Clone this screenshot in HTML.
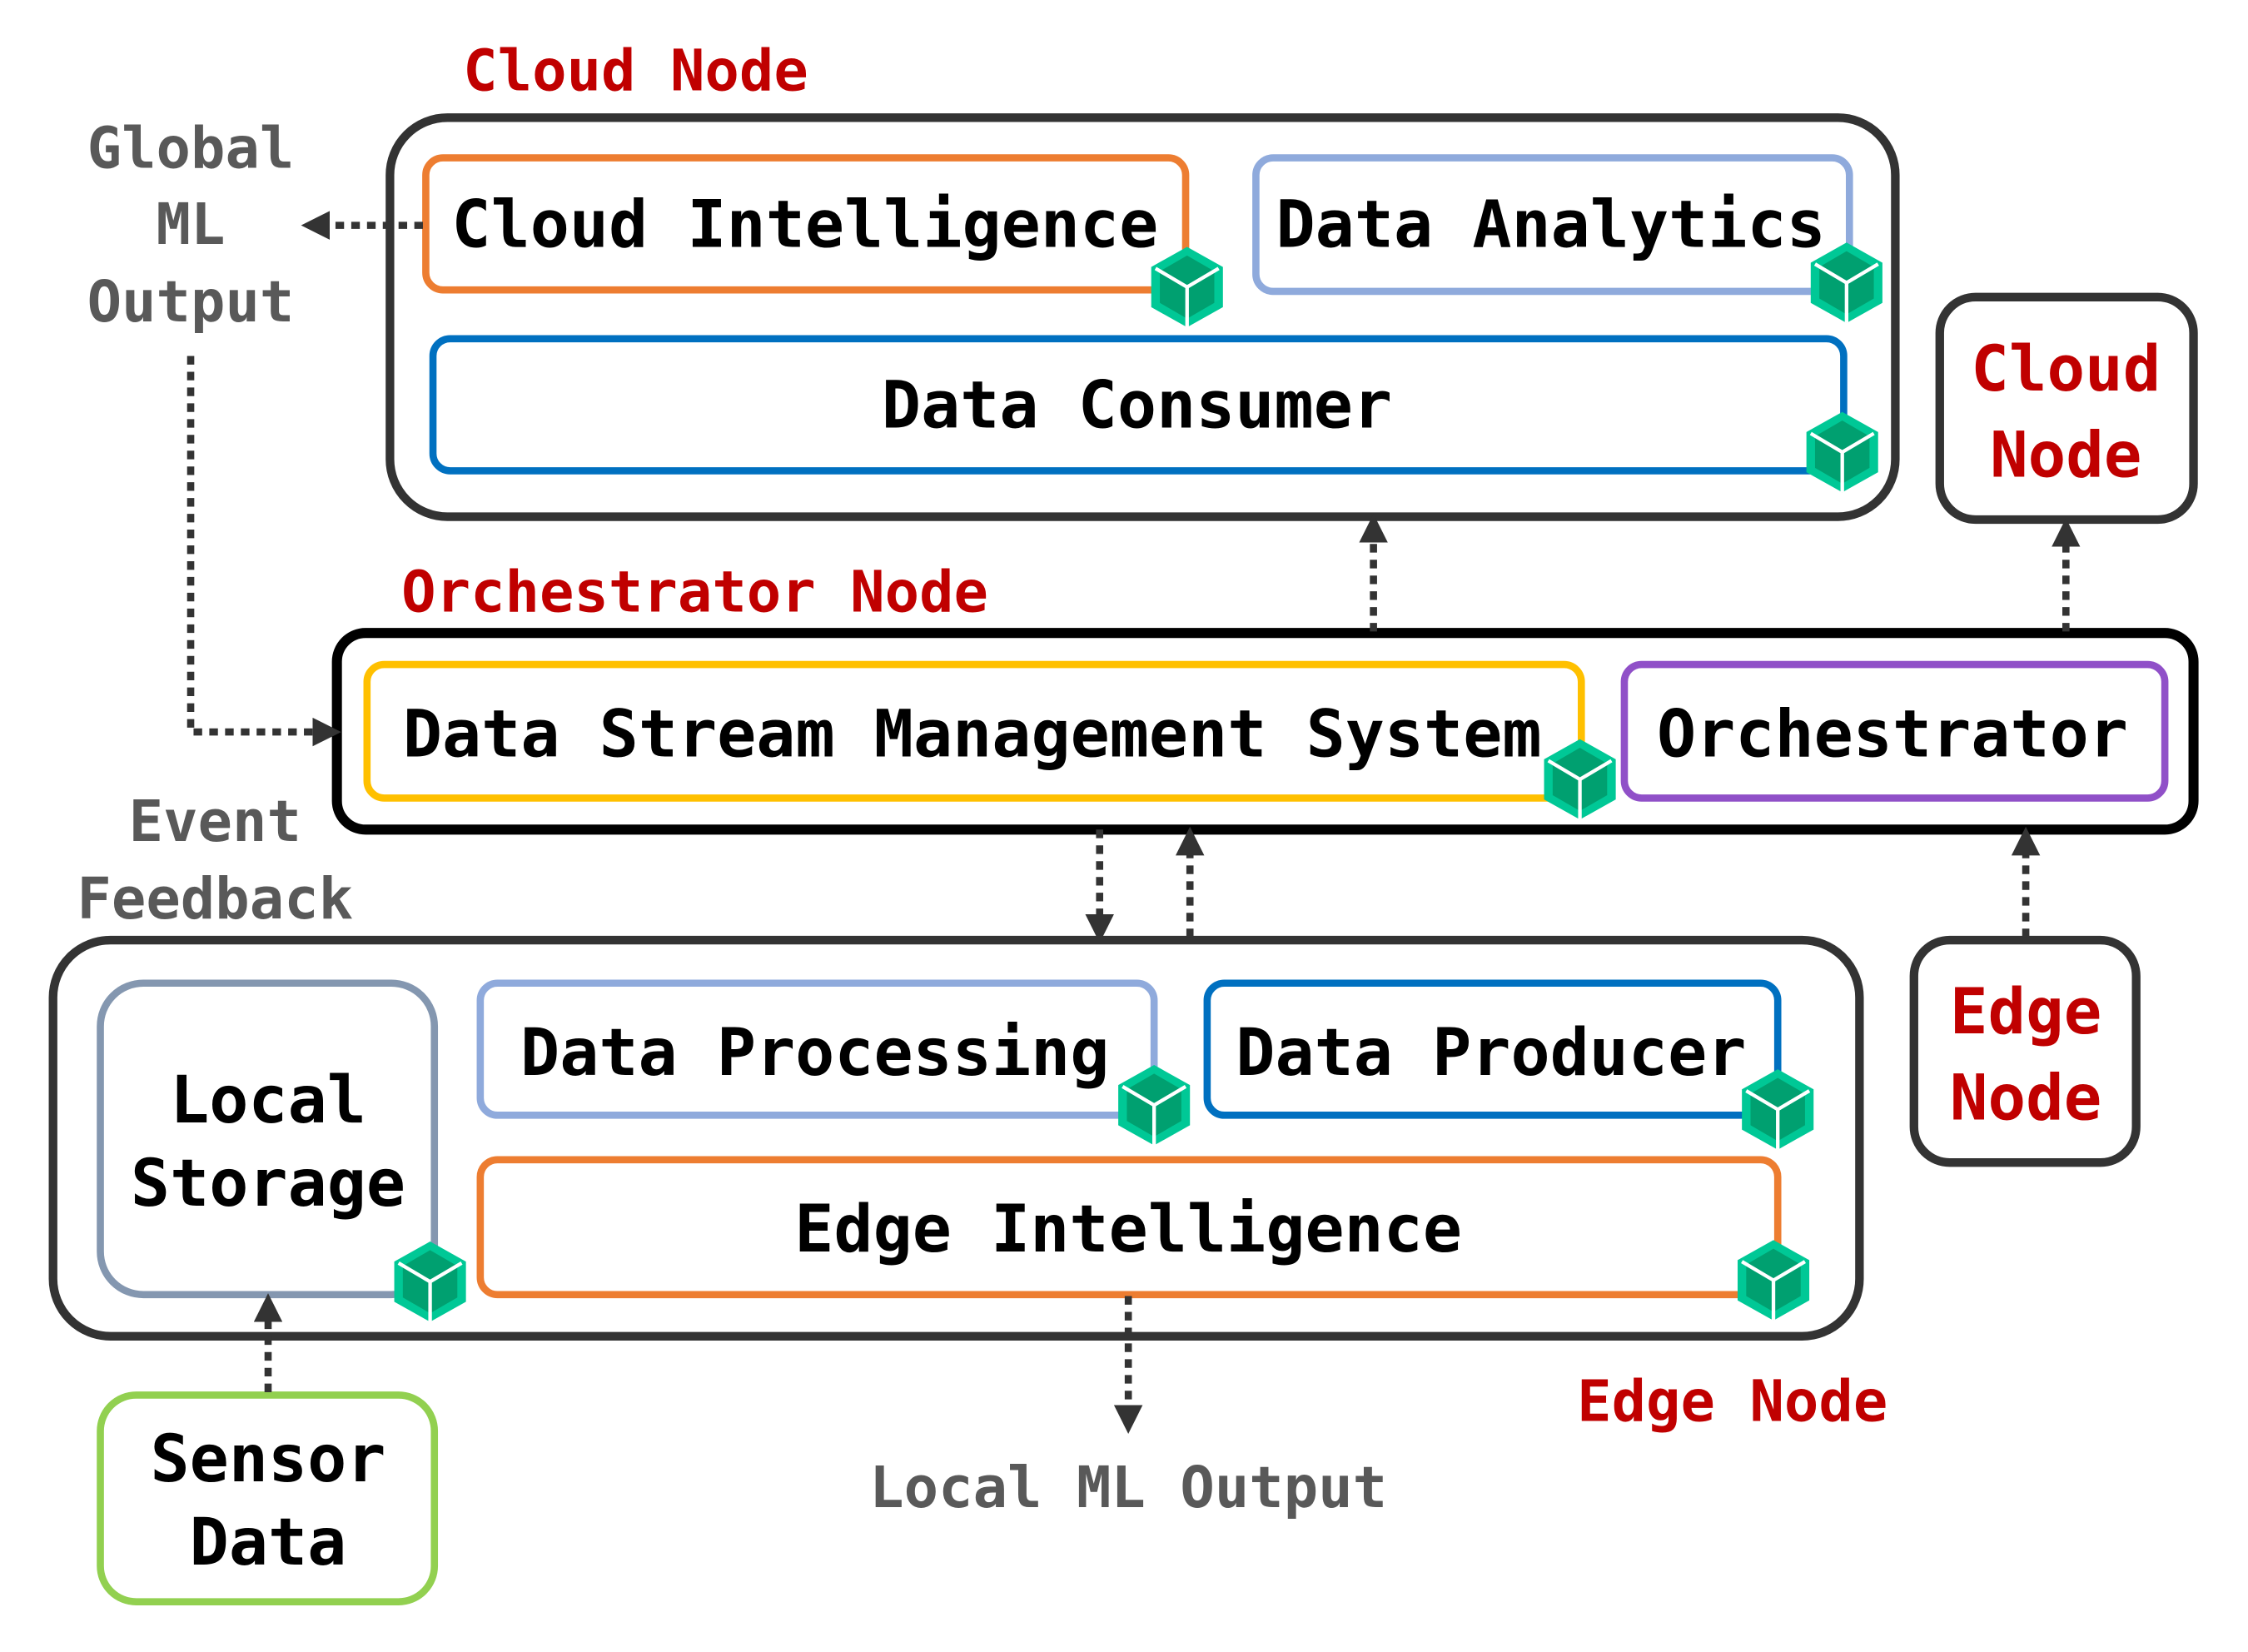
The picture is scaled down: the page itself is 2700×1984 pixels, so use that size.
<!DOCTYPE html>
<html><head><meta charset="utf-8"><style>
html,body{margin:0;padding:0;background:#fff;}
svg{display:block;}
text{font-family:"DejaVu Sans Mono","Liberation Mono",monospace;font-weight:bold;}
</style></head><body>
<svg width="2700" height="1984" viewBox="0 0 1568 1151" preserveAspectRatio="none" xmlns="http://www.w3.org/2000/svg">
<defs>
<g id="cube">
<polygon points="0,-28 25,-14 25,14 0,28 -25,14 -25,-14" fill="#00c896"/>
<polygon points="0,-22 19,-11 19,11 0,22 -19,11 -19,-11" fill="#00a070"/>
<polyline points="-22,-13 0,0 22,-13" fill="none" stroke="#fff" stroke-width="2.5"/>
<line x1="0" y1="0" x2="0" y2="28" stroke="#fff" stroke-width="2.5"/>
</g>
<marker id="ah" viewBox="0 0 10 10" refX="2" refY="5" markerWidth="4" markerHeight="4" orient="auto" markerUnits="strokeWidth">
<polygon points="0,0 10,5 0,10" fill="#333"/>
</marker>
</defs>
<g fill="none" stroke-linejoin="round">
<rect x="272" y="82" width="1050" height="278" rx="40" stroke="#333" stroke-width="6"/>
<rect x="297" y="110" width="530" height="92" rx="12" stroke="#ed7d31" stroke-width="5"/>
<rect x="876" y="110" width="414" height="93" rx="12" stroke="#8faadc" stroke-width="5"/>
<rect x="302" y="236" width="984" height="92" rx="12" stroke="#0070c0" stroke-width="5"/>
<rect x="235" y="441" width="1295" height="137" rx="20" stroke="#000" stroke-width="7"/>
<rect x="256" y="463" width="847" height="93" rx="12" stroke="#ffc000" stroke-width="5"/>
<rect x="1133" y="463" width="377" height="93" rx="12" stroke="#9050c8" stroke-width="5"/>
<rect x="1353" y="207" width="177" height="155" rx="25" stroke="#333" stroke-width="6"/>
<rect x="1335" y="655" width="155" height="155" rx="25" stroke="#333" stroke-width="6"/>
<rect x="37" y="655" width="1260" height="276" rx="40" stroke="#333" stroke-width="6"/>
<rect x="70" y="685" width="233" height="217" rx="30" stroke="#8497b0" stroke-width="5"/>
<rect x="335" y="685" width="470" height="92" rx="12" stroke="#8faadc" stroke-width="5"/>
<rect x="842" y="685" width="398" height="92" rx="12" stroke="#0070c0" stroke-width="5"/>
<rect x="335" y="808" width="905" height="94" rx="12" stroke="#ed7d31" stroke-width="5"/>
<rect x="70" y="972" width="233" height="144" rx="25" stroke="#92d050" stroke-width="5"/>
</g>
<g fill="none" stroke="#333" stroke-width="5" stroke-dasharray="6 5" marker-end="url(#ah)">
<line x1="295" y1="157" x2="226" y2="157"/>
<polyline points="133,248 133,510 222,510"/>
<line x1="958" y1="440" x2="958" y2="374"/>
<line x1="1441" y1="440" x2="1441" y2="377"/>
<line x1="1413" y1="653" x2="1413" y2="592"/>
<line x1="767" y1="578" x2="767" y2="641"/>
<line x1="830" y1="653" x2="830" y2="592"/>
<line x1="787" y1="903" x2="787" y2="983"/>
<line x1="187" y1="970" x2="187" y2="917"/>
</g>
<use href="#cube" x="828" y="200"/>
<use href="#cube" x="1288" y="197"/>
<use href="#cube" x="1285" y="315"/>
<use href="#cube" x="1102" y="543"/>
<use href="#cube" x="805" y="770"/>
<use href="#cube" x="1240" y="773"/>
<use href="#cube" x="300" y="893"/>
<use href="#cube" x="1237" y="892"/>
<g font-size="40" fill="#c00000">
<text x="323" y="63">Cloud Node</text>
<text x="280" y="426">Orchestrator Node</text>
<text x="1100" y="990">Edge Node</text>
</g>
<g font-size="44" fill="#c00000" text-anchor="middle">
<text x="1441" y="272">Cloud</text>
<text x="1441" y="332">Node</text>
<text x="1413" y="720">Edge</text>
<text x="1413" y="780">Node</text>
</g>
<g font-size="40" fill="#595959" text-anchor="middle">
<text x="133" y="117">Global</text>
<text x="133" y="170">ML</text>
<text x="133" y="224">Output</text>
<text x="150" y="586">Event</text>
<text x="150" y="640">Feedback</text>
<text x="787" y="1050">Local ML Output</text>
</g>
<g font-size="45.5" fill="#000">
<text x="315" y="172">Cloud Intelligence</text>
<text x="890" y="172">Data Analytics</text>
<text x="793" y="298" text-anchor="middle">Data Consumer</text>
<text x="281" y="527">Data Stream Management System</text>
<text x="1320" y="527" text-anchor="middle">Orchestrator</text>
<text x="363" y="749">Data Processing</text>
<text x="862" y="749">Data Producer</text>
<text x="787" y="872" text-anchor="middle">Edge Intelligence</text>
<text x="187" y="782" text-anchor="middle">Local</text>
<text x="187" y="840" text-anchor="middle">Storage</text>
<text x="187" y="1032" text-anchor="middle">Sensor</text>
<text x="187" y="1090" text-anchor="middle">Data</text>
</g>
</svg>
</body></html>
